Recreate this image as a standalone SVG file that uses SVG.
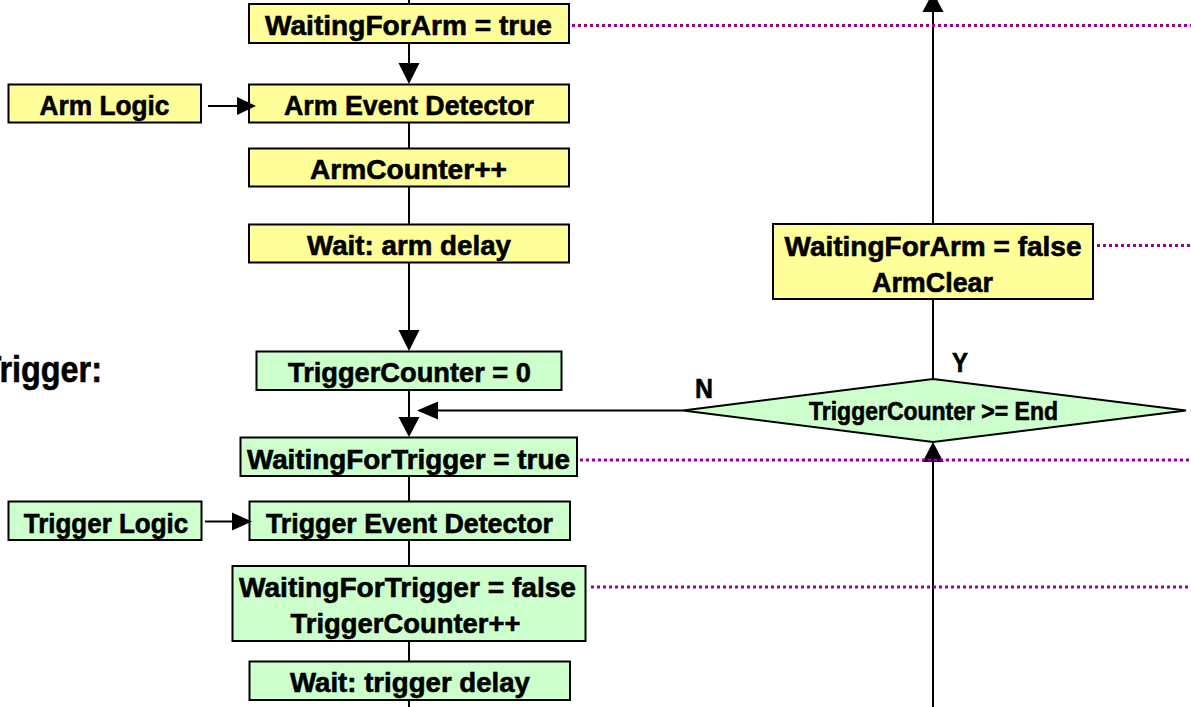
<svg xmlns="http://www.w3.org/2000/svg" width="1191" height="707" viewBox="0 0 1191 707">
  <style>
    .box { stroke: #000; stroke-width: 2; }
    .arm { fill: #ffff99; }
    .trig { fill: #ccffcc; }
    .lbl { font-family: "Liberation Sans", Arial, sans-serif; font-weight: bold; font-size: 28px; fill: #000; stroke: #000; stroke-width: 0.6; text-anchor: middle; }
    .small { font-size: 25px; }
    .wire { stroke: #000; stroke-width: 2; fill: none; }
    .head { fill: #000; }
    .dot { stroke: #990099; stroke-width: 3; stroke-dasharray: 3 3; fill: none; }
  </style>

  <!-- section heading, partly off the left edge -->
  <text x="-18.6" y="381.7" font-family="Liberation Sans, Arial, sans-serif" font-weight="bold" font-size="37" stroke="#000" stroke-width="0.6" textLength="120.6" lengthAdjust="spacingAndGlyphs">Trigger:</text>

  <!-- arm sequence -->
  <g id="waiting-for-arm-true">
    <rect class="box arm" x="249" y="4" width="320" height="39"/>
    <text class="lbl" x="408.5" y="35" textLength="287" lengthAdjust="spacingAndGlyphs">WaitingForArm = true</text>
  </g>
  <g id="arm-logic">
    <rect class="box arm" x="8.5" y="84.5" width="192.5" height="38"/>
    <text class="lbl" x="104.5" y="115" textLength="130" lengthAdjust="spacingAndGlyphs">Arm Logic</text>
  </g>
  <g id="arm-event-detector">
    <rect class="box arm" x="249" y="84.5" width="320" height="38"/>
    <text class="lbl" x="409" y="115" textLength="250" lengthAdjust="spacingAndGlyphs">Arm Event Detector</text>
  </g>
  <g id="arm-counter">
    <rect class="box arm" x="249" y="148.5" width="320" height="38"/>
    <text class="lbl" x="408.5" y="179" textLength="197" lengthAdjust="spacingAndGlyphs">ArmCounter++</text>
  </g>
  <g id="wait-arm-delay">
    <rect class="box arm" x="249" y="224.5" width="320" height="38"/>
    <text class="lbl" x="409" y="255" textLength="204" lengthAdjust="spacingAndGlyphs">Wait: arm delay</text>
  </g>
  <g id="waiting-for-arm-false">
    <rect class="box arm" x="773" y="224" width="320" height="75"/>
    <text class="lbl" x="933" y="255.5" textLength="297" lengthAdjust="spacingAndGlyphs">WaitingForArm = false</text>
    <text class="lbl" x="932.5" y="291.5" textLength="121" lengthAdjust="spacingAndGlyphs">ArmClear</text>
  </g>

  <!-- trigger sequence -->
  <g id="trigger-counter-reset">
    <rect class="box trig" x="256.5" y="351.5" width="305" height="38.5"/>
    <text class="lbl" x="409.5" y="382" textLength="243" lengthAdjust="spacingAndGlyphs">TriggerCounter = 0</text>
  </g>
  <g id="waiting-for-trigger-true">
    <rect class="box trig" x="240.5" y="437.5" width="336.5" height="38.5"/>
    <text class="lbl" x="408.4" y="469" textLength="323" lengthAdjust="spacingAndGlyphs">WaitingForTrigger = true</text>
  </g>
  <g id="trigger-logic">
    <rect class="box trig" x="8.5" y="501.5" width="193" height="38.5"/>
    <text class="lbl" x="106" y="533" textLength="164.6" lengthAdjust="spacingAndGlyphs">Trigger Logic</text>
  </g>
  <g id="trigger-event-detector">
    <rect class="box trig" x="249.5" y="501.5" width="320.5" height="38.5"/>
    <text class="lbl" x="409.5" y="533" textLength="287" lengthAdjust="spacingAndGlyphs">Trigger Event Detector</text>
  </g>
  <g id="waiting-for-trigger-false">
    <rect class="box trig" x="232.5" y="566" width="353" height="75"/>
    <text class="lbl" x="407.5" y="596.5" textLength="337" lengthAdjust="spacingAndGlyphs">WaitingForTrigger = false</text>
    <text class="lbl" x="405.5" y="633" textLength="230" lengthAdjust="spacingAndGlyphs">TriggerCounter++</text>
  </g>
  <g id="wait-trigger-delay">
    <rect class="box trig" x="249.5" y="661.5" width="320.5" height="38.5"/>
    <text class="lbl" x="410" y="692" textLength="240" lengthAdjust="spacingAndGlyphs">Wait: trigger delay</text>
  </g>
  <g id="end-check">
    <polygon class="box trig" points="683,410.5 933,379 1186,410.5 933,442"/>
    <text class="lbl small" x="933.5" y="420" textLength="249" lengthAdjust="spacingAndGlyphs">TriggerCounter &gt;= End</text>
  </g>

  <!-- connectors -->
  <g id="connectors">
    <!-- main column -->
    <line class="wire" x1="409" y1="0" x2="409" y2="4"/>
    <line class="wire" x1="409" y1="43" x2="409" y2="66"/>
    <polygon class="head" points="398.5,63 419.5,63 409,84"/>
    <line class="wire" x1="409" y1="122.5" x2="409" y2="148.5"/>
    <line class="wire" x1="409" y1="186.5" x2="409" y2="224.5"/>
    <line class="wire" x1="409" y1="262.5" x2="409" y2="333"/>
    <polygon class="head" points="398.5,330 419.5,330 409,351"/>
    <line class="wire" x1="409" y1="390" x2="409" y2="420"/>
    <polygon class="head" points="398.5,417 419.5,417 409,437"/>
    <line class="wire" x1="409" y1="476" x2="409" y2="501.5"/>
    <line class="wire" x1="409" y1="540" x2="409" y2="566"/>
    <line class="wire" x1="409" y1="641" x2="409" y2="661.5"/>
    <line class="wire" x1="409" y1="700" x2="409" y2="707"/>

    <!-- logic inputs -->
    <line class="wire" x1="208" y1="106" x2="240" y2="106"/>
    <polygon class="head" points="237,97 237,115 256,106"/>
    <line class="wire" x1="205" y1="521.5" x2="235" y2="521.5"/>
    <polygon class="head" points="232,512.5 232,530.5 252,521.5"/>

    <!-- decision branches -->
    <line class="wire" x1="683" y1="410.5" x2="435" y2="410.5"/>
    <polygon class="head" points="438,401.5 438,419.5 417,410.5"/>
    <line class="wire" x1="933" y1="379" x2="933" y2="299"/>
    <line class="wire" x1="933" y1="224" x2="933" y2="9"/>
    <polygon class="head" points="922.5,12 943.5,12 933,-8"/>
    <line class="wire" x1="933" y1="707" x2="933" y2="459"/>
    <polygon class="head" points="922.5,462 943.5,462 933,442"/>

    <text class="lbl" x="704" y="398" textLength="18" lengthAdjust="spacingAndGlyphs">N</text>
    <text class="lbl" x="960" y="371.5" textLength="16" lengthAdjust="spacingAndGlyphs">Y</text>

    <!-- state signal lines -->
    <line class="dot" x1="572" y1="25.5" x2="1191" y2="25.5"/>
    <line class="dot" x1="1097" y1="245.5" x2="1191" y2="245.5"/>
    <line class="dot" x1="580" y1="460" x2="1191" y2="460"/>
    <line class="dot" x1="591" y1="587" x2="1191" y2="587"/>
  </g>
</svg>
